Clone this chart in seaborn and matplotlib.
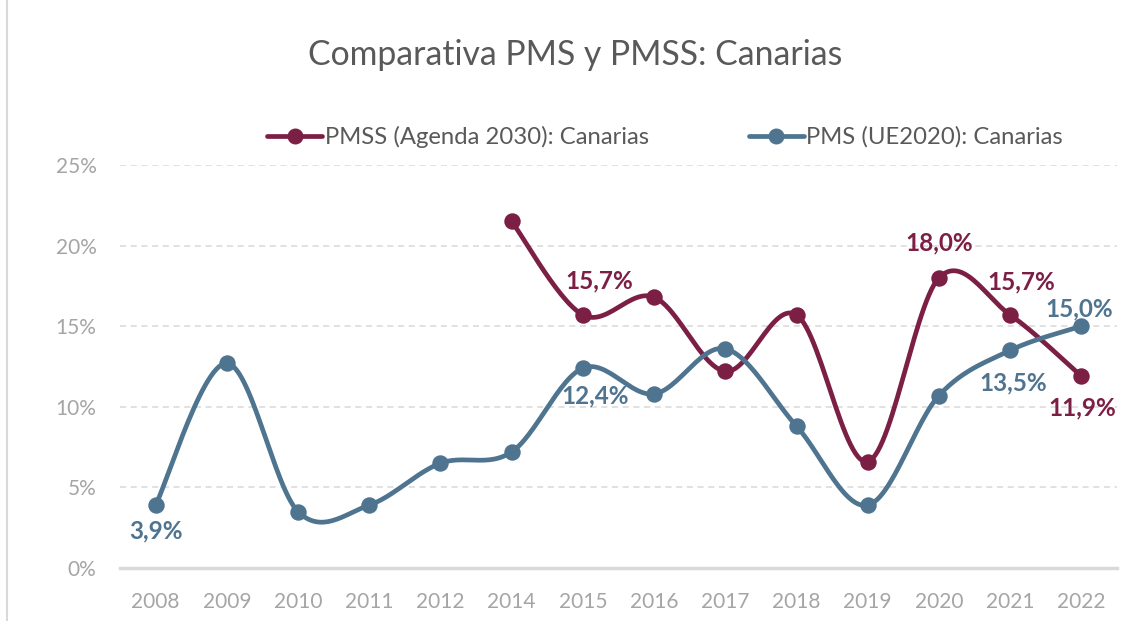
import numpy as np
import pandas as pd
import matplotlib
matplotlib.use("Agg")
import matplotlib.pyplot as plt
import seaborn as sns
from matplotlib.lines import Line2D

# data (percent)
years = ["2008", "2009", "2010", "2011", "2012", "2014", "2015",
         "2016", "2017", "2018", "2019", "2020", "2021", "2022"]
pms = [3.9, 12.7, 3.5, 3.9, 6.5, 7.2, 12.4, 10.8, 13.6, 8.8, 3.9, 10.7, 13.5, 15.0]
pmss_years = ["2014", "2015", "2016", "2017", "2018", "2019", "2020", "2021", "2022"]
pmss = [21.5, 15.7, 16.8, 12.2, 15.7, 6.6, 18.0, 15.7, 11.9]

# which points carry a label, and where (offset in pixels)
pms_labels = {"2008": (0, -26), "2015": (12, -28), "2021": (3, -33), "2022": (-2, 17)}
pmss_labels = {"2015": (16, 34), "2020": (0, 35), "2021": (11, 33), "2022": (1, -32)}

BLUE = "#4F7490"
MAROON = "#7C1F45"
GRID = "#D9D9D9"
TICK = "#A5A5A5"

sns.set_style("white")
plt.rcParams["font.family"] = ["Lato", "DejaVu Sans"]


def smooth(x, y, n=30):
    # excel-like smoothed line (catmull-rom bezier through the points)
    x = np.asarray(x, float)
    y = np.asarray(y, float)
    px = np.concatenate([[x[0]], x, [x[-1]]])
    py = np.concatenate([[y[0]], y, [y[-1]]])
    xs, ys = [], []
    t = np.linspace(0, 1, n)
    for i in range(1, len(px) - 2):
        p0 = np.array([px[i], py[i]])
        p3 = np.array([px[i + 1], py[i + 1]])
        c1 = p0 + (np.array([px[i + 1], py[i + 1]]) - np.array([px[i - 1], py[i - 1]])) / 6
        c2 = p3 - (np.array([px[i + 2], py[i + 2]]) - np.array([px[i], py[i]])) / 6
        b = ((1 - t) ** 3)[:, None] * p0 + (3 * (1 - t) ** 2 * t)[:, None] * c1 \
            + (3 * (1 - t) * t ** 2)[:, None] * c2 + (t ** 3)[:, None] * p3
        xs.append(b[:, 0])
        ys.append(b[:, 1])
    return np.concatenate(xs), np.concatenate(ys)


pos = {y: i for i, y in enumerate(years)}
df_pms = pd.DataFrame({"x": [pos[y] for y in years], "v": pms, "year": years})
df_pmss = pd.DataFrame({"x": [pos[y] for y in pmss_years], "v": pmss, "year": pmss_years})

fig = plt.figure(figsize=(11.4, 6.21), dpi=100)
ax = fig.add_axes([120 / 1140, 1 - 568 / 621, 997 / 1140, 403 / 621])

for df, col in [(df_pmss, MAROON), (df_pms, BLUE)]:
    sx, sy = smooth(df["x"], df["v"])
    ax.plot(sx, sy, color=col, lw=3.4, solid_capstyle="round", zorder=3)
    sns.scatterplot(data=df, x="x", y="v", color=col, s=140, edgecolor=col,
                    linewidth=0, ax=ax, zorder=4, legend=False)

for df, col, labs in [(df_pms, BLUE, pms_labels), (df_pmss, MAROON, pmss_labels)]:
    for _, r in df.iterrows():
        if r["year"] in labs:
            ax.annotate(f"{r['v']:.1f}%".replace(".", ","), (r["x"], r["v"]),
                        xytext=labs[r["year"]], textcoords="offset pixels",
                        ha="center", va="center", fontsize=17.5, fontweight="bold",
                        color=col, zorder=5)

ax.set_xlim(-0.5, len(years) - 0.5)
ax.set_ylim(0, 25)
ax.set_xticks(range(len(years)))
ax.set_xticklabels(years)
ax.set_yticks([0, 5, 10, 15, 20, 25])
ax.set_yticklabels([f"{v}%" for v in [0, 5, 10, 15, 20, 25]])
ax.tick_params(axis="both", colors=TICK, labelsize=15, length=0)
ax.tick_params(axis="x", pad=17)
ax.tick_params(axis="y", pad=17)
ax.set_xlabel("")
ax.set_ylabel("")
ax.yaxis.grid(True, color=GRID, linestyle=(0, (4, 3)), lw=1.1)
ax.set_axisbelow(True)
for s in ["top", "right", "left"]:
    ax.spines[s].set_visible(False)
ax.spines["bottom"].set_color(GRID)
ax.spines["bottom"].set_linewidth(2.5)
ax.spines["bottom"].set_zorder(2)

fig.text(575 / 1140, 1 - 55 / 621, "Comparativa PMS y PMSS: Canarias",
         ha="center", va="center", fontsize=24.3, color="#595959")

handles = [Line2D([], [], color=MAROON, lw=3.4, marker="o", markersize=10.5),
           Line2D([], [], color=BLUE, lw=3.4, marker="o", markersize=10.5)]
fig.legend(handles, ["PMSS (Agenda 2030): Canarias", "PMS (UE2020): Canarias"],
           loc="center", bbox_to_anchor=(665 / 1140, 1 - 137 / 621), ncol=2,
           frameon=False, fontsize=17.2, labelcolor="#595959", handlelength=2.3,
           handletextpad=0.1, columnspacing=4.2)

# light chart border on the left, like the excel frame
fig.add_artist(Line2D([7 / 1140, 7 / 1140], [0, 1], color=GRID, lw=1.5,
                      transform=fig.transFigure))

fig.savefig("out.png", dpi=100, facecolor="white")
